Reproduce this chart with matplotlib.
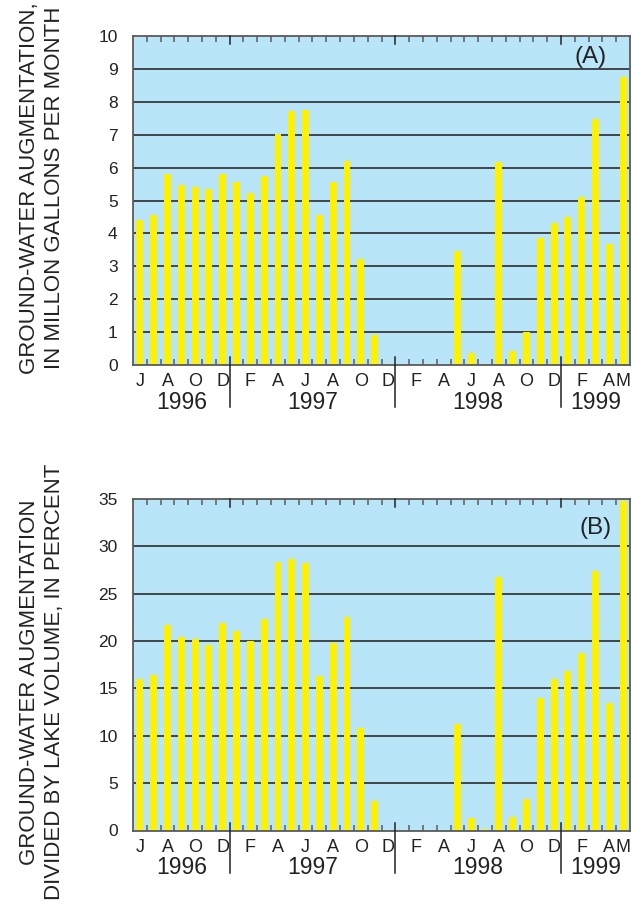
import numpy as np
import matplotlib
matplotlib.use("Agg")
import matplotlib.pyplot as plt
import matplotlib.transforms as mtransforms

plt.rcParams['font.family'] = ['Liberation Sans', 'DejaVu Sans']

# Monthly series, June 1996 through May 1999
month_labels = ['J', '', 'A', '', 'O', '', 'D',
                '', 'F', '', 'A', '', 'J', '', 'A', '', 'O', '', 'D',
                '', 'F', '', 'A', '', 'J', '', 'A', '', 'O', '', 'D',
                '', 'F', '', 'A', 'M']
augmentation_mgal = [4.42, 4.56, 5.80, 5.46, 5.41, 5.36, 5.82,
                     5.57, 5.24, 5.73, 7.02, 7.73, 7.76, 4.56, 5.57, 6.19, 3.21, 0.92, 0.0,
                     0.0, 0.0, 0.0, 0.0, 3.48, 0.37, 0.03, 6.18, 0.42, 0.99, 3.87, 4.33,
                     4.51, 5.11, 7.47, 3.67, 8.76]
augmentation_pct = [16.0, 16.45, 21.67, 20.44, 20.26, 19.63, 21.96,
                    21.04, 19.98, 22.34, 28.34, 28.66, 28.24, 16.31, 19.77, 22.56, 10.80, 3.1, 0.0,
                    0.0, 0.0, 0.0, 0.0, 11.26, 1.34, 0.15, 26.76, 1.45, 3.28, 14.01, 16.03,
                    16.87, 18.78, 27.39, 13.45, 34.84]
years = ['1996', '1997', '1998', '1999']
year_starts = [0, 7, 19, 31]

BG = '#b9e5f9'
BAR = '#fff200'
GRID = '#2b2b2b'
SPINE = '#5a5a5a'
TEXT = '#222222'

W, H = 633, 918
fig = plt.figure(figsize=(W / 100, H / 100), dpi=100)


def panel(rect, values, ymax, ystep, tag, tag_xy, ylabel, ylabel_y):
    ax = fig.add_axes(rect)
    n = len(values)
    x = np.arange(n)
    ax.set_facecolor(BG)
    ax.set_xlim(-0.5, n - 0.5)
    ax.set_ylim(0, ymax)

    # horizontal gridlines behind the bars
    for yv in np.arange(ystep, ymax, ystep):
        ax.axhline(yv, color=GRID, lw=1.2, zorder=1)
    ax.bar(x, values, width=0.5, color=BAR, zorder=2, linewidth=0)

    for s in ax.spines.values():
        s.set_color(SPINE)
        s.set_linewidth(1.3)
        s.set_zorder(3)

    ax.set_yticks(np.arange(0, ymax + 0.01, ystep))
    ax.set_yticklabels([f"{int(v)}" for v in np.arange(0, ymax + 0.01, ystep)])
    ax.tick_params(axis='y', length=0, pad=11, labelsize=12.5, colors=TEXT)

    # month labels under the bars
    ax.set_xticks(x)
    ax.set_xticklabels(month_labels)
    ax.tick_params(axis='x', which='major', length=0, pad=6, labelsize=13,
                   colors=TEXT)
    # month boundary ticks, inward on both edges
    bounds = np.arange(0.5, n - 0.5, 1.0)
    minor = [b for b in bounds if not any(abs(b - (s - 0.5)) < 1e-6 for s in year_starts)]
    ax.set_xticks(minor, minor=True)
    ax.tick_params(axis='x', which='minor', direction='in', length=4, width=1.1,
                   color=SPINE, top=True, bottom=True)

    trans = mtransforms.blended_transform_factory(ax.transData, ax.transAxes)
    hpx = rect[3] * H
    # year separators: inward tick and a line down through the label area
    for s in year_starts[1:]:
        xb = s - 0.5
        ax.plot([xb, xb], [-42 / hpx, 8 / hpx], transform=trans, color=TEXT,
                lw=1.1, clip_on=False, zorder=4)
        ax.plot([xb, xb], [1 - 8 / hpx, 1], transform=trans, color=TEXT,
                lw=1.1, clip_on=False, zorder=4)
    ends = year_starts[1:] + [n]
    for yr, s, e in zip(years, year_starts, ends):
        ax.text((s + e - 1) / 2, -37 / hpx, yr, transform=trans, ha='center',
                va='center', fontsize=16.5, color=TEXT)

    ax.text(tag_xy[0], tag_xy[1], tag, transform=ax.transAxes, ha='center',
            va='center', fontsize=17.5, color=TEXT)
    fig.text(42 / W, ylabel_y, ylabel, rotation=90, ha='center', va='center',
             fontsize=16, color=TEXT, linespacing=1.3, multialignment='center')
    return ax


panel([133 / W, 1 - 365 / H, 497 / W, 329 / H], augmentation_mgal, 10, 1,
      '(A)', (0.92, 0.937),
      'GROUND-WATER AUGMENTATION,\nIN MILLON GALLONS PER MONTH', 1 - 188 / H)
panel([133 / W, 1 - 830.5 / H, 497 / W, 331.5 / H], augmentation_pct, 35, 5,
      '(B)', (0.93, 0.913),
      'GROUND-WATER AUGMENTATION\nDIVIDED BY LAKE VOLUME, IN PERCENT', 1 - 682 / H)

fig.savefig('out.png', dpi=100, facecolor='white')
